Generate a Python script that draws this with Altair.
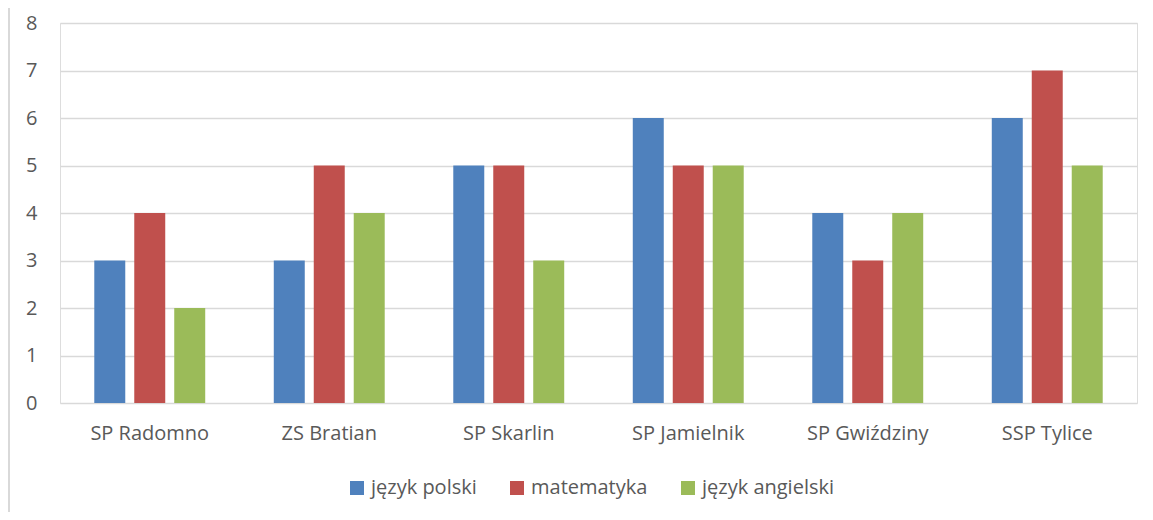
import altair as alt
import pandas as pd

schools = ["SP Radomno", "ZS Bratian", "SP Skarlin", "SP Jamielnik", "SP Gwiździny", "SSP Tylice"]
subjects = ["język polski", "matematyka", "język angielski"]
polski = [3, 3, 5, 6, 4, 6]
matematyka = [4, 5, 5, 5, 3, 7]
angielski = [2, 4, 3, 5, 4, 5]
colors = ["#4F81BD", "#C0504D", "#9BBB59"]

rows = []
for i, s in enumerate(schools):
    for subj, vals in zip(subjects, [polski, matematyka, angielski]):
        rows.append({"szkola": s, "przedmiot": subj, "wartosc": vals[i]})
df = pd.DataFrame(rows)

FONT = "Open Sans"
LABEL = "#595959"
GRID = "#D9D9D9"

bars = alt.Chart(df).mark_bar().encode(
    x=alt.X("szkola:N", sort=schools, title=None,
            scale=alt.Scale(paddingInner=0.382, paddingOuter=0.191),
            axis=alt.Axis(labelAngle=0, labelFontSize=20, labelColor=LABEL, labelFont=FONT,
                          labelPadding=20, ticks=False, domain=False, grid=False)),
    xOffset=alt.XOffset("przedmiot:N", sort=subjects,
                        scale=alt.Scale(paddingInner=0.225, paddingOuter=0)),
    y=alt.Y("wartosc:Q", title=None,
            scale=alt.Scale(domain=[0, 8], nice=False),
            axis=alt.Axis(values=list(range(0, 9)), labelFontSize=20, labelColor=LABEL,
                          labelFont=FONT, labelPadding=23, ticks=False, domain=False,
                          grid=True, gridColor=GRID, gridWidth=1.5)),
    color=alt.Color("przedmiot:N", sort=subjects,
                    scale=alt.Scale(domain=subjects, range=colors),
                    legend=alt.Legend(title=None, orient="none", direction="horizontal",
                                      legendX=287, legendY=455,
                                      symbolType="square", symbolSize=196,
                                      symbolStrokeWidth=0, labelFontSize=20,
                                      labelFont=FONT, labelColor=LABEL,
                                      labelOffset=4, columnPadding=30)),
)

border = alt.Chart(pd.DataFrame({"a": [0]})).mark_rule(color=GRID, strokeWidth=2).encode(
    x=alt.value(-51), y=alt.value(-15), y2=alt.value(497)
)

chart = alt.layer(bars, border).properties(
    width=1077, height=380,
    autosize=alt.AutoSizeParams(type="none"),
    padding={"left": 52, "top": 15, "right": 8, "bottom": 109},
).configure_view(stroke=None).configure(font=FONT)

chart.save("out.html", embed_options={"renderer": "svg", "actions": False})
